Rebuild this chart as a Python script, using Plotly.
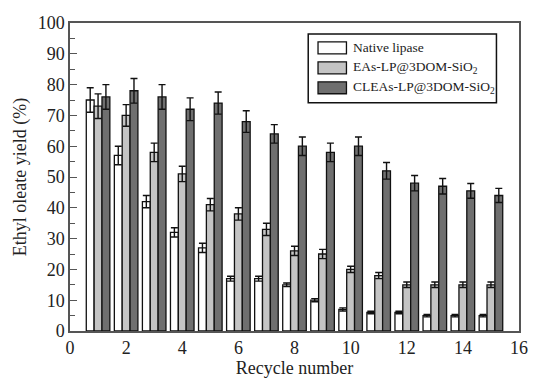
import plotly.graph_objects as go

recycle = list(range(1, 16))
native = [75, 57, 42, 32, 27, 17, 17, 15, 10, 7, 6, 6, 5, 5, 5]
native_err = [4, 3, 2, 1.5, 1.5, 0.8, 0.8, 0.6, 0.5, 0.5, 0.4, 0.4, 0.4, 0.4, 0.4]
eas = [73, 70, 58, 51, 41, 38, 33, 26, 25, 20, 18, 15, 15, 15, 15]
eas_err = [4, 3.5, 3, 2.5, 2, 2, 2, 1.5, 1.5, 1, 1, 0.9, 0.9, 0.9, 0.9]
cleas = [76, 78, 76, 72, 74, 68, 64, 60, 58, 60, 52, 48, 47, 45.5, 44]
cleas_err = [4, 4, 4, 3.7, 3.6, 3.5, 3, 3, 3, 3, 2.7, 2.5, 2.5, 2.4, 2.3]

names = ["Native lipase", "EAs-LP@3DOM-SiO<sub>2</sub>", "CLEAs-LP@3DOM-SiO<sub>2</sub>"]
colors = ["#ffffff", "#c4c4c4", "#6f6f6f"]
vals = [native, eas, cleas]
errs = [native_err, eas_err, cleas_err]

W, H = 539, 386
ML, MR, MT, MB = 70, 11, 23, 54
PW, PH = W - ML - MR, H - MT - MB

def px(x):
    return (x - ML) / PW

def py(y):
    return (H - MB - y) / PH

fig = go.Figure()
for n, c, v, e in zip(names, colors, vals, errs):
    fig.add_trace(go.Bar(
        x=recycle, y=v, name=n, showlegend=False,
        marker=dict(color=c, line=dict(color="#111111", width=1.3)),
        error_y=dict(type="data", array=e, visible=True, color="#111111", thickness=1.4, width=3.5),
    ))

font = "Liberation Serif"

# custom legend (box, swatches, labels)
shapes = [dict(type="rect", xref="paper", yref="paper",
               x0=px(313), x1=px(505), y0=py(103), y1=py(34),
               line=dict(color="#111111", width=1.5), fillcolor="white", layer="above")]
annots = []
for i, (n, c) in enumerate(zip(names, colors)):
    yc = 48 + 20 * i
    shapes.append(dict(type="rect", xref="paper", yref="paper",
                       x0=px(323), x1=px(352), y0=py(yc + 6), y1=py(yc - 6),
                       line=dict(color="#111111", width=1.3), fillcolor=c, layer="above"))
    annots.append(dict(xref="paper", yref="paper", x=px(357), y=py(yc),
                       xanchor="left", yanchor="middle", text=n, showarrow=False,
                       font=dict(family=font, size=13.5, color="#222222")))

fig.update_layout(
    width=W, height=H,
    margin=dict(l=ML, r=MR, t=MT, b=MB),
    paper_bgcolor="white", plot_bgcolor="white",
    barmode="group", bargap=0.16, bargroupgap=0,
    font=dict(family=font, size=17, color="#222222"),
    showlegend=False,
    shapes=shapes, annotations=annots,
    xaxis=dict(
        range=[0, 16], tickvals=[0, 2, 4, 6, 8, 10, 12, 14, 16],
        ticks="", showline=True, linecolor="#555555", linewidth=1.5, mirror=True,
        showgrid=False, zeroline=False,
        title=dict(text="Recycle number", font=dict(size=18), standoff=4),
        tickfont=dict(size=18),
    ),
    yaxis=dict(
        range=[0, 100], tickvals=list(range(0, 101, 10)),
        ticks="inside", ticklen=7, tickcolor="#555555", tickwidth=1.2,
        minor=dict(ticks="inside", ticklen=5, tickcolor="#555555", dtick=5, tickwidth=1.2),
        showline=True, linecolor="#555555", linewidth=1.5, mirror=True,
        showgrid=False, zeroline=False,
        title=dict(text="Ethyl oleate yield (%)", font=dict(size=18), standoff=6),
        tickfont=dict(size=18),
    ),
)

fig.write_html("out.html")
